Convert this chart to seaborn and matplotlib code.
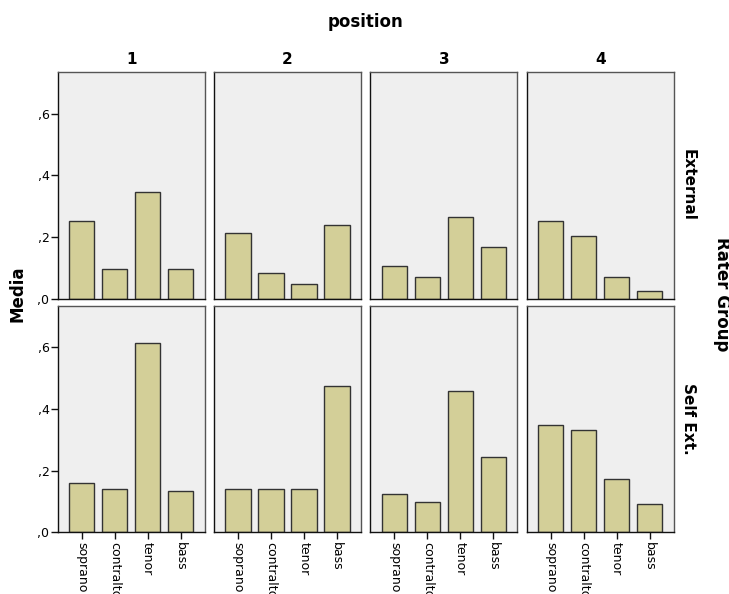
import matplotlib
matplotlib.use("Agg")
import matplotlib.pyplot as plt
import seaborn as sns
import pandas as pd

# Mean scores by voice part, for each position and rater group
voices = ["soprano", "contralto", "tenor", "bass"]
positions = ["1", "2", "3", "4"]
rater_groups = ["External", "Self Ext."]

external = {
    "1": [0.25, 0.095, 0.345, 0.095],
    "2": [0.214, 0.084, 0.047, 0.238],
    "3": [0.107, 0.070, 0.263, 0.166],
    "4": [0.251, 0.202, 0.071, 0.023],
}
self_ext = {
    "1": [0.160, 0.140, 0.612, 0.133],
    "2": [0.140, 0.140, 0.140, 0.473],
    "3": [0.125, 0.098, 0.459, 0.245],
    "4": [0.348, 0.333, 0.174, 0.092],
}

y_ticks = [0.0, 0.2, 0.4, 0.6]
y_tick_labels = [",0", ",2", ",4", ",6"]

rows = []
for group, table in zip(rater_groups, [external, self_ext]):
    for pos in positions:
        for v, m in zip(voices, table[pos]):
            rows.append({"Rater Group": group, "position": pos, "voice": v, "Media": m})
df = pd.DataFrame(rows)

sns.set_theme(style="white")
plt.rcParams["font.family"] = ["DejaVu Sans"]
plt.rcParams["text.color"] = "black"

fig, axes = plt.subplots(2, 4, figsize=(7.29, 5.94), dpi=100, sharey=True)
fig.subplots_adjust(left=0.0792, right=0.924, top=0.879, bottom=0.104,
                    wspace=0.065, hspace=0.031)

bar_color = "#d3cf98"
edge = "#333333"

for r, group in enumerate(rater_groups):
    for c, pos in enumerate(positions):
        ax = axes[r, c]
        sub = df[(df["Rater Group"] == group) & (df["position"] == pos)]
        sns.barplot(data=sub, x="voice", y="Media", order=voices, ax=ax,
                    color=bar_color, edgecolor=edge, linewidth=1.0,
                    width=0.77, errorbar=None, saturation=1)
        ax.set_facecolor("#efefef")
        ax.set_xlim(-0.73, 3.73)
        ax.set_ylim(0, 0.735)
        for s in ax.spines.values():
            s.set_visible(True)
            s.set_color("#555555")
            s.set_linewidth(1.0)
        ax.spines["bottom"].set_color("#111111")
        ax.spines["left"].set_color("#111111")
        ax.set_xlabel("")
        ax.set_ylabel("")
        ax.set_yticks(y_ticks)
        if c == 0:
            ax.set_yticklabels(y_tick_labels, fontsize=9)
            ax.tick_params(axis="y", left=True, length=5, width=1, color="#111111",
                           pad=1, labelcolor="black")
        else:
            ax.tick_params(axis="y", left=False, labelleft=False)
        if r == 1:
            ax.set_xticks(range(len(voices)))
            ax.set_xticklabels(voices, rotation=270, fontsize=9, va="top", ha="center")
            ax.tick_params(axis="x", bottom=True, length=5, width=1, color="#111111",
                           pad=2, labelcolor="black")
        else:
            ax.tick_params(axis="x", bottom=False, labelbottom=False)
        if r == 0:
            ax.set_title(pos, fontsize=11, fontweight="bold", pad=6, color="black")
        if c == 3:
            ax.text(1.05, 0.5, group, transform=ax.transAxes, rotation=270,
                    ha="left", va="center", fontsize=11, fontweight="bold",
                    color="black")

fig.text(0.502, 0.963, "position", ha="center", va="center",
         fontsize=12, fontweight="bold", color="black")
fig.text(0.024, 0.505, "Media", ha="center", va="center", rotation=90,
         fontsize=12, fontweight="bold", color="black")
fig.text(0.99, 0.505, "Rater Group", ha="center", va="center", rotation=270,
         fontsize=12, fontweight="bold", color="black")

fig.savefig("out.png", dpi=100, facecolor="white")
